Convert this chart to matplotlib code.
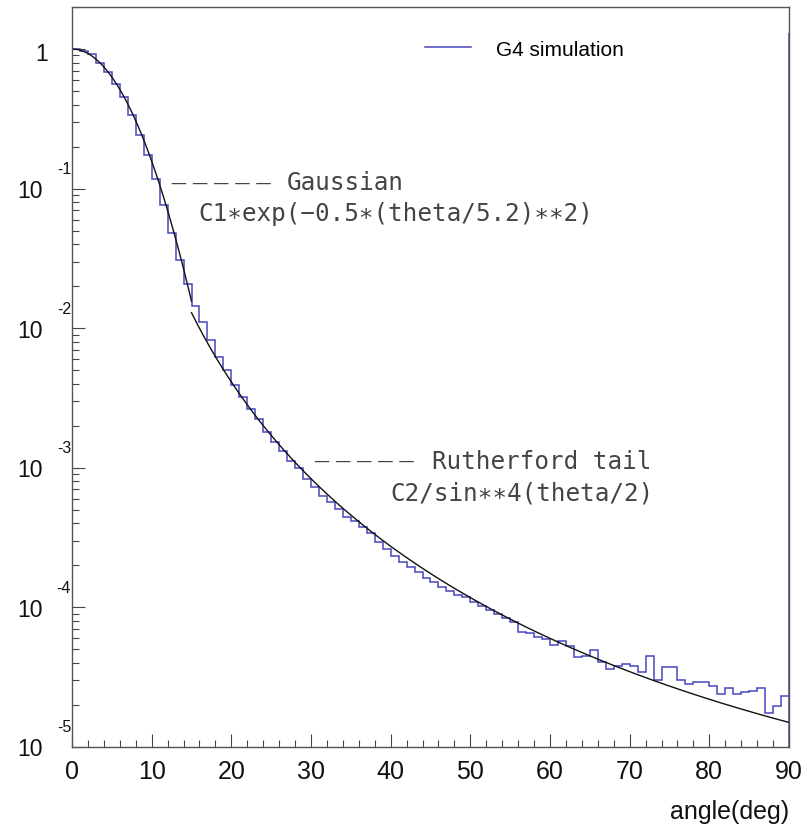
import numpy as np
import matplotlib
matplotlib.use('Agg')
import matplotlib.pyplot as plt
from matplotlib import transforms
from matplotlib.ticker import MultipleLocator, LogLocator, NullFormatter

# histogram: 1 degree bins from 0 to 90
bin_edges = np.arange(0, 91, 1)
counts_gauss = [1.0, 0.975, 0.92, 0.80, 0.68, 0.56, 0.45, 0.337, 0.243, 0.174,
                0.117, 0.0767, 0.0478, 0.031, 0.0207, 0.0145, 0.0110]
counts_mid = [8.2e-3, 6.2e-3, 5.0e-3, 3.95e-3, 3.2e-3, 2.65e-3, 2.22e-3, 1.8e-3,
              1.52e-3, 1.33e-3, 1.12e-3, 9.9e-4, 8.3e-4, 7.3e-4, 6.3e-4, 5.7e-4,
              5.1e-4, 4.45e-4]
counts_tail = [4.15e-4, 3.75e-4, 3.4e-4, 2.95e-4, 2.6e-4, 2.35e-4, 2.12e-4, 1.95e-4,
               1.78e-4, 1.62e-4, 1.52e-4, 1.40e-4, 1.30e-4, 1.22e-4, 1.18e-4, 1.10e-4,
               1.03e-4, 9.6e-5, 9.0e-5, 8.4e-5]
counts_far = [7.8e-5, 6.65e-5, 6.6e-5, 6.1e-5, 5.9e-5, 5.4e-5, 5.75e-5, 5.3e-5, 4.4e-5,
              4.5e-5, 4.98e-5, 4.05e-5, 3.62e-5, 3.82e-5, 3.9e-5, 3.82e-5, 3.46e-5,
              4.5e-5, 3.0e-5, 3.72e-5, 3.72e-5, 3.0e-5, 2.83e-5, 2.9e-5, 2.9e-5,
              2.74e-5, 2.4e-5, 2.63e-5, 2.4e-5, 2.46e-5, 2.53e-5, 2.63e-5, 1.74e-5,
              1.98e-5, 2.33e-5]
counts = np.array(counts_gauss + counts_mid + counts_tail + counts_far)
last_edge_top = 1.3  # histogram outline at 90 deg goes up to here

# fit functions written on the plot
C1, sigma = 1.0, 5.2
C2 = 3.75e-6
theta_split = 15.0

x_ticks = np.arange(0, 91, 10)
y_decades = [1e-1, 1e-2, 1e-3, 1e-4, 1e-5]
y_exponents = ['-1', '-2', '-3', '-4', '-5']

W, H = 807, 829
fig = plt.figure(figsize=(W / 100, H / 100), dpi=100)
ax_l, ax_r, ax_t, ax_b = 72, 789, 8, 748
ax = fig.add_axes([ax_l / W, 1 - ax_b / H, (ax_r - ax_l) / W, (ax_b - ax_t) / H])


def axfrac(x, y):
    # pixel position in the picture -> axes fraction
    return (x - ax_l) / (ax_r - ax_l), (ax_b - y) / (ax_b - ax_t)


hist_color = '#4646c0'
ax.stairs(counts, bin_edges, color=hist_color, lw=1.1, label='G4 simulation')
ax.vlines(bin_edges[-1], counts[-1], last_edge_top, color=hist_color, lw=1.1)

th_g = np.linspace(0, theta_split, 200)
ax.plot(th_g, C1 * np.exp(-0.5 * (th_g / sigma) ** 2), color='#111111', lw=1.0)
th_r = np.linspace(theta_split, 90, 400)
ax.plot(th_r, C2 / np.sin(np.radians(th_r) / 2) ** 4, color='#111111', lw=1.0)

ax.set_yscale('log')
ax.set_xlim(0, 90)
ax.set_ylim(1e-5, 2)

for s in ax.spines.values():
    s.set_color('#555555')
    s.set_linewidth(1.0)

ax.set_xticks(x_ticks)
ax.xaxis.set_minor_locator(MultipleLocator(2))
ax.yaxis.set_major_locator(LogLocator(base=10, numticks=20))
ax.yaxis.set_minor_locator(LogLocator(base=10, subs=np.arange(2, 10), numticks=20))
ax.yaxis.set_minor_formatter(NullFormatter())
ax.tick_params(which='both', direction='in', color='#444444', width=0.8)
ax.tick_params(which='major', length=9.5)
ax.tick_params(which='minor', length=5)
ax.tick_params(axis='x', labelsize=18, pad=8.5, labelcolor='#111111')
ax.tick_params(axis='y', labelleft=False)
for lab in ax.get_xticklabels():
    lab.set_family('Liberation Sans')

# ROOT style y labels: "10" with the exponent up and to the right
ytr = ax.get_yaxis_transform()
tr_base = transforms.offset_copy(ytr, fig=fig, y=-2, units='dots')
tr_exp = transforms.offset_copy(ytr, fig=fig, y=20, units='dots')
ax.text(axfrac(48, 0)[0], 1.0, '1', transform=transforms.offset_copy(ytr, fig=fig, y=-4, units='dots'),
        ha='right', va='center', fontsize=16.5, family='Liberation Sans', color='#111111')
for v, e in zip(y_decades, y_exponents):
    ax.text(axfrac(43, 0)[0], v, '10', transform=tr_base, ha='right', va='center',
            fontsize=16.5, family='Liberation Sans', color='#111111', clip_on=False)
    ax.text(axfrac(71, 0)[0], v, e, transform=tr_exp, ha='right', va='center',
            fontsize=11.5, family='Liberation Sans', color='#111111', clip_on=False)

ax.text(1.0, axfrac(0, 812)[1], 'angle(deg)', transform=ax.transAxes, ha='right', va='center',
        fontsize=18, family='Liberation Sans', color='#111111')

# legend
ax.legend(loc='center left', bbox_to_anchor=(425 / W, 1 - 50 / H), bbox_transform=fig.transFigure,
          frameon=False, borderpad=0, borderaxespad=0, handlelength=2.2, handletextpad=1.2,
          prop={'family': 'Liberation Sans', 'size': 15})

# fit annotations
note_kw = dict(transform=ax.transAxes, va='center', ha='left', color='#444444')
mono = dict(family='DejaVu Sans Mono', fontsize=17.5)
dash = dict(family='DejaVu Sans', fontsize=11.5)
ax.text(*axfrac(171, 183), '— — — — —', **dash, **note_kw)
ax.text(*axfrac(287, 183), 'Gaussian', **mono, **note_kw)
ax.text(*axfrac(198, 214), 'C1∗exp(−0.5∗(theta/5.2)∗∗2)', **mono, **note_kw)
ax.text(*axfrac(314, 462), '— — — — —', **dash, **note_kw)
ax.text(*axfrac(432, 462), 'Rutherford tail', **mono, **note_kw)
ax.text(*axfrac(390, 494), 'C2/sin∗∗4(theta/2)', **mono, **note_kw)

fig.savefig('out.png', dpi=100)
